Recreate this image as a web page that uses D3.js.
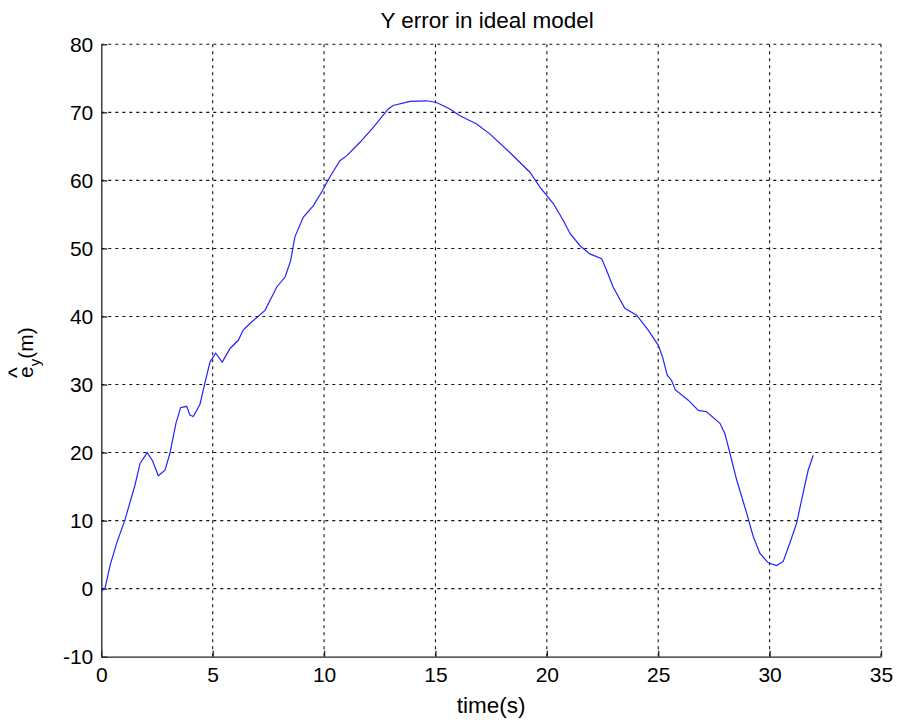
<!DOCTYPE html>
<html>
<head>
<meta charset="utf-8">
<script src="https://cdn.jsdelivr.net/npm/d3@7"></script>
<style>
    body { margin: 0; background: #fff; }
    text { font-family: "Liberation Sans", Arial, sans-serif; fill: #000; }
</style>
</head>
<body>
<div id="chart"></div>
<script>
const timeS = [0, 0.17, 0.4, 0.69, 1.06, 1.51, 1.74, 2.06, 2.3, 2.56, 2.86, 3.08, 3.35, 3.56, 3.83, 3.98,
    4.13, 4.43, 4.65, 4.88, 5.13, 5.43, 5.78, 6.15, 6.37, 6.67, 7.35, 7.87, 8.25, 8.5, 8.69, 9.07,
    9.52, 9.89, 10.26, 10.71, 11.01, 11.61, 12.21, 12.88, 13.1, 13.86, 14.6, 15.05, 15.65, 16.1,
    16.85, 17.45, 18.34, 19.24, 19.69, 19.99, 20.29, 20.74, 21.04, 21.49, 21.93, 22.46, 22.68,
    22.98, 23.5, 24.03, 24.55, 25.0, 25.2, 25.4, 25.6, 25.77, 26.35, 26.8, 27.17, 27.77, 27.99,
    28.22, 28.52, 28.97, 29.26, 29.56, 29.94, 30.31, 30.61, 30.91, 31.21, 31.5, 31.73, 31.96];
const errorY = [-0.4, 0.1, 3.5, 6.7, 10.1, 15.2, 18.4, 20.0, 18.8, 16.6, 17.4, 19.9, 24.3, 26.6, 26.8, 25.5,
    25.3, 27.1, 30.2, 33.3, 34.6, 33.3, 35.3, 36.5, 38.0, 38.96, 40.9, 44.3, 45.8, 48.2, 51.7, 54.6,
    56.3, 58.3, 60.5, 62.9, 63.6, 65.6, 67.8, 70.5, 71.0, 71.6, 71.7, 71.45, 70.5, 69.5,
    68.3, 66.8, 64.1, 61.2, 59.0, 57.8, 56.6, 54.1, 52.2, 50.4, 49.2, 48.5, 46.8,
    44.3, 41.2, 40.2, 38.0, 35.8, 34.0, 31.4, 30.6, 29.2, 27.7, 26.2, 26.0, 24.3, 22.8,
    19.9, 16.0, 11.1, 7.7, 5.2, 3.8, 3.4, 4.0, 6.7, 9.6, 14.0, 17.4, 19.6];
const xTicks = [0, 5, 10, 15, 20, 25, 30, 35];
const yTicks = [-10, 0, 10, 20, 30, 40, 50, 60, 70, 80];

const width = 899;
const height = 723;
const margin = { top: 44.3, right: 18, bottom: 66.3, left: 101.3 };
const innerW = width - margin.left - margin.right;
const innerH = height - margin.top - margin.bottom;

const svg = d3.select('#chart')
    .append('svg')
    .attr('width', width)
    .attr('height', height);

const g = svg.append('g')
    .attr('transform', `translate(${margin.left}, ${margin.top})`);

const x = d3.scaleLinear().domain([0, 35]).range([0, innerW]);
const y = d3.scaleLinear().domain([-10, 80]).range([innerH, 0]);

// grid
g.append('g')
    .selectAll('line')
    .data(xTicks.slice(1))
    .enter()
    .append('line')
    .attr('x1', d => x(d)).attr('x2', d => x(d))
    .attr('y1', 0).attr('y2', innerH)
    .attr('stroke', '#111')
    .attr('stroke-width', 1.1)
    .attr('stroke-dasharray', '3,4');

g.append('g')
    .selectAll('line')
    .data(yTicks.slice(1))
    .enter()
    .append('line')
    .attr('x1', 0).attr('x2', innerW)
    .attr('y1', d => y(d)).attr('y2', d => y(d))
    .attr('stroke', '#111')
    .attr('stroke-width', 1.1)
    .attr('stroke-dasharray', '3,4');

// axes
const xAxis = g.append('g')
    .attr('transform', `translate(0, ${innerH})`)
    .call(d3.axisBottom(x).tickValues(xTicks).tickFormat(d => String(d))
        .tickSizeInner(-6).tickSizeOuter(0).tickPadding(10));

const yAxis = g.append('g')
    .call(d3.axisLeft(y).tickValues(yTicks).tickFormat(d => String(d))
        .tickSizeInner(-6).tickSizeOuter(0).tickPadding(8));

[xAxis, yAxis].forEach(a => {
    a.select('.domain').attr('stroke', '#222').attr('stroke-width', 1.3);
    a.selectAll('.tick line').attr('stroke', '#222').attr('stroke-width', 1.3);
    a.selectAll('.tick text')
        .style('font-size', '21px')
        .style('font-family', '"Liberation Sans", Arial, sans-serif')
        .attr('fill', '#000');
});

// line
const line = d3.line()
    .x(d => x(d[0]))
    .y(d => y(d[1]));

g.append('path')
    .datum(d3.zip(timeS, errorY))
    .attr('d', line)
    .attr('fill', 'none')
    .attr('stroke', '#2222ff')
    .attr('stroke-width', 1.2);

// title and labels
svg.append('text')
    .attr('x', margin.left + innerW / 2 - 4)
    .attr('y', 28)
    .attr('text-anchor', 'middle')
    .style('font-size', '22.5px')
    .text('Y error in ideal model');

svg.append('text')
    .attr('x', margin.left + innerW / 2)
    .attr('y', 713)
    .attr('text-anchor', 'middle')
    .style('font-size', '22.5px')
    .text('time(s)');

const yLabel = svg.append('g')
    .attr('transform', 'translate(33, 378) rotate(-90)');

const yText = yLabel.append('text')
    .style('font-size', '21px');
yText.append('tspan').text('e');
yText.append('tspan').attr('dy', 7).style('font-size', '15px').text('y');
yText.append('tspan').attr('dy', -7).text('(m)');

yLabel.append('text')
    .attr('x', 0)
    .attr('y', -8)
    .style('font-size', '23px')
    .text('^');
</script>
</body>
</html>
